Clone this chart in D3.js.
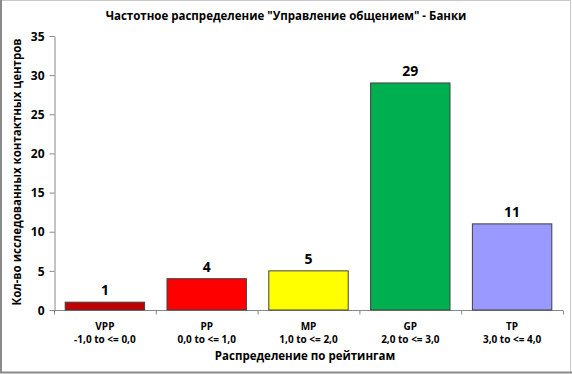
<!DOCTYPE html>
<html><head><meta charset="utf-8">
<script src="https://cdn.jsdelivr.net/npm/d3@7"></script>
<style>body{margin:0;background:#fff}svg{display:block}text{font-family:"Open Sans",sans-serif;font-weight:bold;fill:#000}</style>
</head><body><svg id="c" width="572" height="374"></svg>
<script>
const codes = ["VPP","PP","MP","GP","TP"];
const ranges = ["-1,0 to <= 0,0","0,0 to <= 1,0","1,0 to <= 2,0","2,0 to <= 3,0","3,0 to <= 4,0"];
const values = [1,4,5,29,11];
const colors = ["#C00000","#FF0000","#FFFF00","#00B050","#9999FF"];
const yTicks = [0,5,10,15,20,25,30,35];
const title = "Частотное распределение \"Управление общением\" - Банки";
const yTitle = "Кол-во исследованных контактных центров";
const xTitle = "Распределение по рейтингам";

const svg = d3.select("#c");
// frame
svg.append("rect").attr("x",0.5).attr("y",0.5).attr("width",570).attr("height",372).attr("fill","#fff").attr("stroke","#c8c8c8");
svg.append("line").attr("x1",1).attr("x2",1).attr("y1",0).attr("y2",373).attr("stroke","#8a8a8a").attr("stroke-width",2);
svg.append("line").attr("x1",0).attr("x2",572).attr("y1",372.5).attr("y2",372.5).attr("stroke","#8a8a8a").attr("stroke-width",2);

const x = d3.scaleBand().domain(codes).range([54,563]).padding(0);
const y = d3.scaleLinear().domain([0,35]).range([310,36]);

// y axis
const ya = svg.append("g").attr("transform","translate(54.5,0)")
  .call(d3.axisLeft(y).tickValues(yTicks).tickSize(5).tickSizeOuter(0));
ya.select(".domain").attr("stroke","#888");
ya.selectAll(".tick line").attr("stroke","#888");
ya.selectAll(".tick text").attr("x",-10).attr("dy","0.35em").style("font-size","12px");

// x axis
const xa = svg.append("g").attr("transform","translate(0,310.5)");
xa.append("line").attr("x1",54).attr("x2",563).attr("stroke","#888");
const bounds = codes.map(c=>x(c)).concat([x.range()[1]]);
xa.selectAll("line.t").data(bounds).join("line").attr("class","t")
  .attr("x1",d=>d+0.5).attr("x2",d=>d+0.5).attr("y1",0).attr("y2",4).attr("stroke","#888");

const bw = x.bandwidth()*0.78;
svg.selectAll("rect.bar").data(codes).join("rect").attr("class","bar")
  .attr("x",(d,i)=>x(d)+(x.bandwidth()-bw)/2)
  .attr("y",(d,i)=>y(values[i]))
  .attr("width",bw)
  .attr("height",(d,i)=>y(0)-y(values[i]))
  .attr("fill",(d,i)=>colors[i])
  .attr("stroke","#404040").attr("stroke-width",1);

svg.selectAll("text.val").data(codes).join("text").attr("class","val")
  .attr("x",d=>x(d)+x.bandwidth()/2)
  .attr("y",(d,i)=>y(values[i])-7)
  .attr("text-anchor","middle").style("font-size","14px")
  .text((d,i)=>values[i]);

svg.selectAll("text.code").data(codes).join("text").attr("class","code")
  .attr("x",d=>x(d)+x.bandwidth()/2).attr("y",330)
  .attr("text-anchor","middle").style("font-size","10px").text(d=>d);
svg.selectAll("text.rng").data(codes).join("text").attr("class","rng")
  .attr("x",d=>x(d)+x.bandwidth()/2).attr("y",343)
  .attr("text-anchor","middle").style("font-size","10px").text((d,i)=>ranges[i]);

svg.append("text").attr("x",286).attr("y",20).attr("text-anchor","middle").style("font-size","11.5px").text(title);
svg.append("text").attr("x",305).attr("y",360).attr("text-anchor","middle").style("font-size","11.5px").text(xTitle);
svg.append("text").attr("transform","translate(21,172) rotate(-90)").attr("text-anchor","middle").style("font-size","11.5px").text(yTitle);
</script></body></html>
